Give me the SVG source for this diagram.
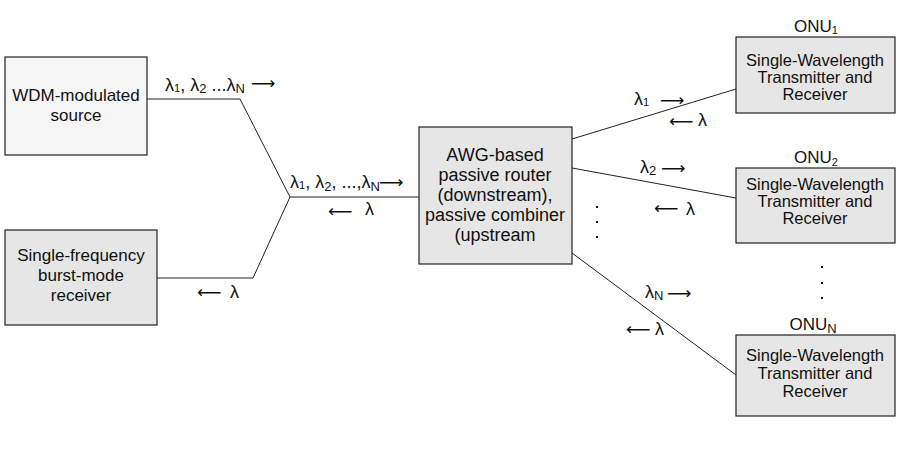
<svg xmlns="http://www.w3.org/2000/svg" width="904" height="458" viewBox="0 0 904 458">
<style>
.box{fill:#e6e6e6;stroke:#222;stroke-width:1.2}
.wbox{fill:#f6f6f6;stroke:#222;stroke-width:1.2}
text{font-family:"Liberation Sans",Arial,sans-serif;font-size:17px;fill:#111}
.c{text-anchor:middle}
.onu{font-size:16.5px}
.awg{font-size:18px}
.lb{font-size:18px}
.s{font-size:11px}
.s2{font-size:13px}
.ar{font-family:"DejaVu Sans",sans-serif;font-size:17px}
.ln{fill:none;stroke:#222;stroke-width:1}
.dot{fill:#111}
</style>
<rect width="904" height="458" fill="#fff"/>
<g id="connectors">
<polyline class="ln" points="147,99 240,99 290,197 253,278 157,278"/>
<line class="ln" x1="290" y1="197" x2="419" y2="197"/>
<line class="ln" x1="572" y1="139" x2="736" y2="89"/>
<line class="ln" x1="572" y1="168" x2="736" y2="198"/>
<line class="ln" x1="572" y1="253" x2="736" y2="375"/>
</g>
<g id="labels">
<text class="lb" x="165" y="91">λ<tspan class="s" dy="1">1</tspan><tspan dy="-1">, λ</tspan><tspan class="s2" dy="2">2</tspan><tspan dy="-2"> ...λ</tspan><tspan class="s2" dy="2">N</tspan></text>
<text class="ar" x="251" y="89">⟶</text>
<text class="lb" x="290" y="188">λ<tspan class="s" dy="1">1</tspan><tspan dy="-1">, λ</tspan><tspan class="s2" dy="3">2</tspan><tspan dy="-3">, ...,λ</tspan><tspan class="s2" dy="3">N</tspan></text>
<text class="ar" x="379" y="188">⟶</text>
<text class="ar" x="328" y="217">⟵</text>
<text class="lb" x="365" y="215">λ</text>
<text class="ar" x="197" y="298">⟵</text>
<text class="lb" x="230" y="298">λ</text>
<text class="lb" x="634" y="105">λ<tspan class="s" dy="1">1</tspan></text>
<text class="ar" x="660" y="106">⟶</text>
<text class="ar" x="669" y="127">⟵</text>
<text class="lb" x="698" y="126">λ</text>
<text class="lb" x="640" y="173">λ<tspan class="s2" dy="2">2</tspan></text>
<text class="ar" x="661" y="174">⟶</text>
<text class="ar" x="654" y="214">⟵</text>
<text class="lb" x="686" y="215">λ</text>
<text class="lb" x="645" y="298">λ<tspan class="s2" dy="2">N</tspan></text>
<text class="ar" x="667" y="299">⟶</text>
<text class="ar" x="626" y="335">⟵</text>
<text class="lb" x="655" y="335">λ</text>
</g>
<g id="dots">
<rect class="dot" x="596" y="206" width="2" height="2"/>
<rect class="dot" x="596" y="221" width="2" height="2"/>
<rect class="dot" x="596" y="236" width="2" height="2"/>
<rect class="dot" x="821" y="266" width="2" height="2"/>
<rect class="dot" x="821" y="282" width="2" height="2"/>
<rect class="dot" x="821" y="297" width="2" height="2"/>
</g>
<g id="wdm-source">
<rect class="wbox" x="5" y="57" width="142" height="98"/>
<text class="c" x="76" y="101">WDM-modulated</text>
<text class="c" x="76" y="121">source</text>
</g>
<g id="burst-receiver">
<rect class="box" x="5" y="230" width="152" height="95"/>
<text class="c" x="81" y="261">Single-frequency</text>
<text class="c" x="81" y="281">burst-mode</text>
<text class="c" x="81" y="301">receiver</text>
</g>
<g id="awg">
<rect class="box" x="419" y="127" width="153" height="137"/>
<text class="c awg" x="495" y="161">AWG-based</text>
<text class="c awg" x="495" y="181">passive router</text>
<text class="c awg" x="495" y="201">(downstream),</text>
<text class="c awg" x="495" y="221">passive combiner</text>
<text class="c awg" x="495" y="241">(upstream</text>
</g>
<g id="onu1">
<text class="c" x="816" y="32">ONU<tspan class="s" dy="2">1</tspan></text>
<rect class="box" x="736" y="37" width="159" height="76"/>
<text class="c onu" x="815" y="66">Single-Wavelength</text>
<text class="c onu" x="815" y="83">Transmitter and</text>
<text class="c onu" x="815" y="100">Receiver</text>
</g>
<g id="onu2">
<text class="c" x="816" y="163">ONU<tspan class="s" dy="3">2</tspan></text>
<rect class="box" x="736" y="168" width="159" height="75"/>
<text class="c onu" x="815" y="190">Single-Wavelength</text>
<text class="c onu" x="815" y="207">Transmitter and</text>
<text class="c onu" x="815" y="224">Receiver</text>
</g>
<g id="onuN">
<text class="c" x="813" y="330">ONU<tspan class="s2" dy="3">N</tspan></text>
<rect class="box" x="736" y="335" width="159" height="81"/>
<text class="c onu" x="815" y="361">Single-Wavelength</text>
<text class="c onu" x="815" y="379">Transmitter and</text>
<text class="c onu" x="815" y="397">Receiver</text>
</g>
</svg>
